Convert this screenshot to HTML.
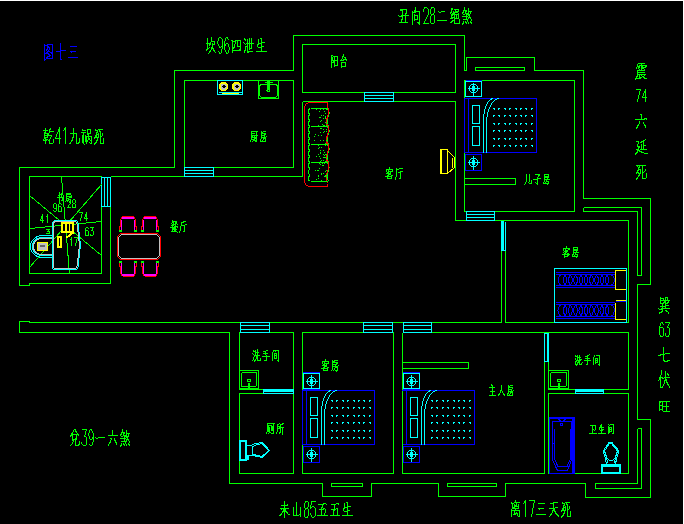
<!DOCTYPE html>
<html><head><meta charset="utf-8"><title>Floor plan</title>
<style>html,body{margin:0;padding:0;background:#000;font-family:"Liberation Sans",sans-serif;}svg{display:block}</style>
</head><body>
<svg width="684" height="524" viewBox="0 0 684 524" shape-rendering="crispEdges">
<desc>图十三 坎96四泄生 丑向28二绝煞 震74六延死 乾41九祸死 巽63七伏旺 兑39一六煞 未山85五五生 离17三天死 阳台 厨房 客厅 儿子房 客房 餐厅 书房 洗手间 主人房 厕所 卫生间</desc>
<rect width="684" height="524" fill="#000"/>
<path d="M19.5 285.5 L19.5 167.5 L174.5 167.5 L174.5 70.5 L293.5 70.5 L293.5 35.5 L464.5 35.5 L464.5 70.5 L466.5 70.5 L466.5 57.5 L534.5 57.5 L534.5 70.5 L583.5 70.5 L583.5 198.5 L650.5 198.5 L650.5 284.5 L637.5 284.5 L637.5 419.5 L650.5 419.5 L650.5 497.5 L585.5 497.5 L585.5 483.5 L505.5 483.5 L505.5 496.5 L438.5 496.5 L438.5 483.5 L371.5 483.5 L371.5 496.5 L322.5 496.5 L322.5 483.5 L229.5 483.5 L229.5 332.5 L19.5 332.5 L19.5 321.5 L29.5 321.5 L29.5 322.5 L501.5 322.5" stroke="#00ff00" stroke-width="1" fill="none"/>
<path d="M19.5 285.5 L29.5 285.5 L29.5 283.5 L110.5 283.5 L110.5 206.5" stroke="#00ff00" stroke-width="1" fill="none"/>
<path d="M101.5 206.5 L101.5 273.5 L29.5 273.5 L29.5 176.5 L101.5 176.5" stroke="#00ff00" stroke-width="1" fill="none"/>
<path d="M110.5 176.5 L302.5 176.5" stroke="#00ff00" stroke-width="1" fill="none"/>
<path d="M302.5 101.5 L302.5 176.5" stroke="#00ff00" stroke-width="1" fill="none"/>
<path d="M184.5 167.5 L184.5 80.5 L293.5 80.5 L293.5 167.5 L213.5 167.5" stroke="#00ff00" stroke-width="1" fill="none"/>
<path d="M302.5 44.5 L455.5 44.5 L455.5 92.5 L302.5 92.5 Z" stroke="#00ff00" stroke-width="1" fill="none"/>
<path d="M302.5 101.5 L364.5 101.5" stroke="#00ff00" stroke-width="1" fill="none"/>
<path d="M393.5 101.5 L455.5 101.5 L455.5 220.5 L466.5 220.5" stroke="#00ff00" stroke-width="1" fill="none"/>
<path d="M494.5 220.5 L628.5 220.5 L628.5 322.5 L505.5 322.5 L505.5 250.5" stroke="#00ff00" stroke-width="1" fill="none"/>
<path d="M501.5 250.5 L501.5 322.5" stroke="#00ff00" stroke-width="1" fill="none"/>
<path d="M464.5 211.5 L464.5 80.5 L574.5 80.5 L574.5 211.5 L494.5 211.5" stroke="#00ff00" stroke-width="1" fill="none"/>
<path d="M464.5 211.5 L466.5 211.5" stroke="#00ff00" stroke-width="1" fill="none"/>
<path d="M475.5 67.5 L524.5 67.5 L524.5 70.5 L475.5 70.5 Z" stroke="#00ff00" stroke-width="1" fill="none"/>
<path d="M464.5 178.5 L515.5 178.5 L515.5 184.5 L464.5 184.5" stroke="#00ff00" stroke-width="1" fill="none"/>
<path d="M583.5 207.5 L641.5 207.5 L641.5 275.5 L637.5 275.5 L637.5 211.5 L583.5 211.5 L583.5 207.5" stroke="#00ff00" stroke-width="1" fill="none"/>
<path d="M263.5 389.5 L239.5 389.5 L239.5 332.5 L293.5 332.5 L293.5 389.5" stroke="#00ff00" stroke-width="1" fill="none"/>
<path d="M239.5 393.5 L293.5 393.5 L293.5 473.5 L239.5 473.5 Z" stroke="#00ff00" stroke-width="1" fill="none"/>
<path d="M302.5 332.5 L393.5 332.5 L393.5 473.5 L302.5 473.5 Z" stroke="#00ff00" stroke-width="1" fill="none"/>
<path d="M402.5 332.5 L628.5 332.5 L628.5 389.5 L603.5 389.5" stroke="#00ff00" stroke-width="1" fill="none"/>
<path d="M575.5 389.5 L548.5 389.5 L548.5 361.5" stroke="#00ff00" stroke-width="1" fill="none"/>
<path d="M544.5 361.5 L544.5 473.5 L402.5 473.5 L402.5 332.5" stroke="#00ff00" stroke-width="1" fill="none"/>
<path d="M548.5 393.5 L628.5 393.5 L628.5 473.5 L548.5 473.5 Z" stroke="#00ff00" stroke-width="1" fill="none"/>
<path d="M331.5 483.5 L362.5 483.5 L362.5 486.5 L331.5 486.5 Z" stroke="#00ff00" stroke-width="1" fill="none"/>
<path d="M447.5 483.5 L496.5 483.5 L496.5 486.5 L447.5 486.5 Z" stroke="#00ff00" stroke-width="1" fill="none"/>
<path d="M637.5 428.5 L641.5 428.5 L641.5 488.5 L595.5 488.5 L595.5 483.5 L637.5 483.5 L637.5 428.5" stroke="#00ff00" stroke-width="1" fill="none"/>
<path d="M402.5 362.5 L468.5 362.5 L468.5 368.5 L402.5 368.5 Z" stroke="#00ff00" stroke-width="1" fill="none"/>
<path d="M364.5 92.5 L393.5 92.5 L393.5 101.5 L364.5 101.5 Z" stroke="#00ffff" stroke-width="1" fill="none"/>
<path d="M364.5 95.5 L393.5 95.5" stroke="#00ffff" stroke-width="1" fill="none"/>
<path d="M364.5 98.5 L393.5 98.5" stroke="#00ffff" stroke-width="1" fill="none"/>
<path d="M184.5 167.5 L213.5 167.5 L213.5 176.5 L184.5 176.5 Z" stroke="#00ffff" stroke-width="1" fill="none"/>
<path d="M184.5 170.5 L213.5 170.5" stroke="#00ffff" stroke-width="1" fill="none"/>
<path d="M184.5 173.5 L213.5 173.5" stroke="#00ffff" stroke-width="1" fill="none"/>
<path d="M101.5 177.5 L110.5 177.5 L110.5 206.5 L101.5 206.5 Z" stroke="#00ffff" stroke-width="1" fill="none"/>
<path d="M104.5 177.5 L104.5 206.5" stroke="#00ffff" stroke-width="1" fill="none"/>
<path d="M107.5 177.5 L107.5 206.5" stroke="#00ffff" stroke-width="1" fill="none"/>
<path d="M466.5 211.5 L494.5 211.5 L494.5 220.5 L466.5 220.5 Z" stroke="#00ffff" stroke-width="1" fill="none"/>
<path d="M466.5 214.5 L494.5 214.5" stroke="#00ffff" stroke-width="1" fill="none"/>
<path d="M466.5 217.5 L494.5 217.5" stroke="#00ffff" stroke-width="1" fill="none"/>
<path d="M240.5 322.5 L269.5 322.5 L269.5 332.5 L240.5 332.5 Z" stroke="#00ffff" stroke-width="1" fill="none"/>
<path d="M240.5 325.5 L269.5 325.5" stroke="#00ffff" stroke-width="1" fill="none"/>
<path d="M240.5 329.5 L269.5 329.5" stroke="#00ffff" stroke-width="1" fill="none"/>
<path d="M363.5 322.5 L392.5 322.5 L392.5 332.5 L363.5 332.5 Z" stroke="#00ffff" stroke-width="1" fill="none"/>
<path d="M363.5 325.5 L392.5 325.5" stroke="#00ffff" stroke-width="1" fill="none"/>
<path d="M363.5 329.5 L392.5 329.5" stroke="#00ffff" stroke-width="1" fill="none"/>
<path d="M403.5 322.5 L431.5 322.5 L431.5 332.5 L403.5 332.5 Z" stroke="#00ffff" stroke-width="1" fill="none"/>
<path d="M403.5 325.5 L431.5 325.5" stroke="#00ffff" stroke-width="1" fill="none"/>
<path d="M403.5 329.5 L431.5 329.5" stroke="#00ffff" stroke-width="1" fill="none"/>
<rect x="501" y="221" width="3" height="30" fill="#00ffff"/>
<path d="M505.5 221.5 L505.5 250.5" stroke="#00ffff" stroke-width="1" fill="none"/>
<path d="M501.5 250.5 L505.5 250.5" stroke="#00ffff" stroke-width="1" fill="none"/>
<path d="M544.5 333.5 L548.5 333.5 L548.5 361.5 L544.5 361.5 Z" stroke="#00ffff" stroke-width="1" fill="none"/>
<path d="M547.5 333.5 L547.5 361.5" stroke="#00ffff" stroke-width="1" fill="none"/>
<rect x="263" y="389" width="31" height="3" fill="#00ffff"/>
<path d="M263.5 393.5 L293.5 393.5" stroke="#00ffff" stroke-width="1" fill="none"/>
<path d="M263.5 389.5 L263.5 393.5" stroke="#00ffff" stroke-width="1" fill="none"/>
<path d="M293.5 389.5 L293.5 393.5" stroke="#00ffff" stroke-width="1" fill="none"/>
<rect x="575" y="389" width="29" height="3" fill="#00ffff"/>
<path d="M575.5 393.5 L603.5 393.5" stroke="#00ffff" stroke-width="1" fill="none"/>
<path d="M575.5 389.5 L575.5 393.5" stroke="#00ffff" stroke-width="1" fill="none"/>
<path d="M603.5 389.5 L603.5 393.5" stroke="#00ffff" stroke-width="1" fill="none"/>
<path d="M465.5 81.5 L481.5 81.5 L481.5 96.5 L465.5 96.5 Z" stroke="#00ffff" stroke-width="1" fill="none"/>
<path d="M471.5 84.5 L475.5 84.5 L477.5 86.5 L477.5 90.5 L475.5 92.5 L471.5 92.5 L469.5 90.5 L469.5 86.5 Z" stroke="#00ffff" stroke-width="1" fill="none"/>
<path d="M467.5 88.5 L479.5 88.5" stroke="#00ffff" stroke-width="1" fill="none"/>
<path d="M473.5 82.5 L473.5 95.5" stroke="#00ffff" stroke-width="1" fill="none"/>
<rect x="472" y="86" width="3" height="5" fill="#00ffff"/>
<path d="M465.5 80.5 L481.5 80.5" stroke="#0000ff" stroke-width="1" fill="none"/>
<path d="M465.5 154.5 L481.5 154.5 L481.5 170.5 L465.5 170.5 Z" stroke="#0000ff" stroke-width="1" fill="none"/>
<path d="M471.5 158.5 L475.5 158.5 L477.5 160.5 L477.5 164.5 L475.5 166.5 L471.5 166.5 L469.5 164.5 L469.5 160.5 Z" stroke="#00ffff" stroke-width="1" fill="none"/>
<path d="M467.5 162.5 L479.5 162.5" stroke="#00ffff" stroke-width="1" fill="none"/>
<path d="M473.5 155.5 L473.5 169.5" stroke="#00ffff" stroke-width="1" fill="none"/>
<rect x="472" y="160" width="3" height="5" fill="#00ffff"/>
<path d="M303.5 372.5 L319.5 372.5 L319.5 389.5 L303.5 389.5 Z" stroke="#0000ff" stroke-width="1" fill="none"/>
<path d="M303.5 373.5 L319.5 373.5 L319.5 388.5 L303.5 388.5 Z" stroke="#00ffff" stroke-width="1" fill="none"/>
<path d="M309.5 377.5 L313.5 377.5 L315.5 379.5 L315.5 383.5 L313.5 385.5 L309.5 385.5 L307.5 383.5 L307.5 379.5 Z" stroke="#00ffff" stroke-width="1" fill="none"/>
<path d="M305.5 381.5 L317.5 381.5" stroke="#00ffff" stroke-width="1" fill="none"/>
<path d="M311.5 374.5 L311.5 387.5" stroke="#00ffff" stroke-width="1" fill="none"/>
<rect x="310" y="379" width="3" height="5" fill="#00ffff"/>
<path d="M303.5 446.5 L319.5 446.5 L319.5 462.5 L303.5 462.5 Z" stroke="#0000ff" stroke-width="1" fill="none"/>
<path d="M309.5 450.5 L313.5 450.5 L315.5 452.5 L315.5 456.5 L313.5 458.5 L309.5 458.5 L307.5 456.5 L307.5 452.5 Z" stroke="#00ffff" stroke-width="1" fill="none"/>
<path d="M305.5 454.5 L317.5 454.5" stroke="#00ffff" stroke-width="1" fill="none"/>
<path d="M311.5 447.5 L311.5 461.5" stroke="#00ffff" stroke-width="1" fill="none"/>
<rect x="310" y="452" width="3" height="5" fill="#00ffff"/>
<path d="M403.5 372.5 L419.5 372.5 L419.5 389.5 L403.5 389.5 Z" stroke="#0000ff" stroke-width="1" fill="none"/>
<path d="M403.5 373.5 L419.5 373.5 L419.5 388.5 L403.5 388.5 Z" stroke="#00ffff" stroke-width="1" fill="none"/>
<path d="M409.5 377.5 L413.5 377.5 L415.5 379.5 L415.5 383.5 L413.5 385.5 L409.5 385.5 L407.5 383.5 L407.5 379.5 Z" stroke="#00ffff" stroke-width="1" fill="none"/>
<path d="M405.5 381.5 L417.5 381.5" stroke="#00ffff" stroke-width="1" fill="none"/>
<path d="M411.5 374.5 L411.5 387.5" stroke="#00ffff" stroke-width="1" fill="none"/>
<rect x="410" y="379" width="3" height="5" fill="#00ffff"/>
<path d="M403.5 446.5 L419.5 446.5 L419.5 462.5 L403.5 462.5 Z" stroke="#0000ff" stroke-width="1" fill="none"/>
<path d="M409.5 450.5 L413.5 450.5 L415.5 452.5 L415.5 456.5 L413.5 458.5 L409.5 458.5 L407.5 456.5 L407.5 452.5 Z" stroke="#00ffff" stroke-width="1" fill="none"/>
<path d="M405.5 454.5 L417.5 454.5" stroke="#00ffff" stroke-width="1" fill="none"/>
<path d="M411.5 447.5 L411.5 461.5" stroke="#00ffff" stroke-width="1" fill="none"/>
<rect x="410" y="452" width="3" height="5" fill="#00ffff"/>
<path d="M464.5 98.5 L536.5 98.5 L536.5 152.5 L464.5 152.5 Z" stroke="#0000ff" stroke-width="1" fill="none"/>
<path d="M468.5 98.5 L468.5 152.5" stroke="#0000ff" stroke-width="1" fill="none"/>
<path d="M472.5 105.5 L479.5 105.5 L479.5 123.5 L472.5 123.5 Z" stroke="#00ffff" stroke-width="1" fill="none"/>
<path d="M472.5 126.5 L479.5 126.5 L479.5 145.5 L472.5 145.5 Z" stroke="#00ffff" stroke-width="1" fill="none"/>
<path d="M483.50 152.50 L483.50 120.50 L483.59 117.63 L483.84 114.81 L484.26 112.08 L484.84 109.50 L485.57 107.11 L486.43 104.94 L487.41 103.05 L488.50 101.45 L489.67 100.17 L490.91 99.25 L492.19 98.69 L493.50 98.50" stroke="#00ffff" stroke-width="1" fill="none"/>
<path d="M486.50 152.50 L486.50 124.50 L486.61 121.11 L486.94 117.77 L487.49 114.55 L488.24 111.50 L489.19 108.67 L490.31 106.12 L491.59 103.87 L493.00 101.98 L494.53 100.48 L496.14 99.39 L497.80 98.72 L499.50 98.50" stroke="#00ffff" stroke-width="1" fill="none"/>
<path d="M493 108.5h2M494 109.5h1M498 108.5h2M498 109.5h1M504 108.5h2M505 109.5h1M509 108.5h2M509 109.5h1M515 108.5h2M516 109.5h1M520 108.5h2M520 109.5h1M525 108.5h2M526 109.5h1M531 108.5h2M531 109.5h1M493 115.5h2M493 116.5h1M498 115.5h2M499 116.5h1M504 115.5h2M504 116.5h1M509 115.5h2M510 116.5h1M515 115.5h2M515 116.5h1M520 115.5h2M521 116.5h1M525 115.5h2M525 116.5h1M531 115.5h2M532 116.5h1M493 123.5h2M494 124.5h1M498 123.5h2M498 124.5h1M504 123.5h2M505 124.5h1M509 123.5h2M509 124.5h1M515 123.5h2M516 124.5h1M520 123.5h2M520 124.5h1M525 123.5h2M526 124.5h1M531 123.5h2M531 124.5h1M493 130.5h2M493 131.5h1M498 130.5h2M499 131.5h1M504 130.5h2M504 131.5h1M509 130.5h2M510 131.5h1M515 130.5h2M515 131.5h1M520 130.5h2M521 131.5h1M525 130.5h2M525 131.5h1M531 130.5h2M532 131.5h1M493 138.5h2M494 139.5h1M498 138.5h2M498 139.5h1M504 138.5h2M505 139.5h1M509 138.5h2M509 139.5h1M515 138.5h2M516 139.5h1M520 138.5h2M520 139.5h1M525 138.5h2M526 139.5h1M531 138.5h2M531 139.5h1M493 145.5h2M493 146.5h1M498 145.5h2M499 146.5h1M504 145.5h2M504 146.5h1M509 145.5h2M510 146.5h1M515 145.5h2M515 146.5h1M520 145.5h2M521 146.5h1M525 145.5h2M525 146.5h1M531 145.5h2M532 146.5h1" stroke="#00ffff" stroke-width="1" fill="none"/>
<path d="M302.5 390.5 L374.5 390.5 L374.5 444.5 L302.5 444.5 Z" stroke="#0000ff" stroke-width="1" fill="none"/>
<path d="M306.5 390.5 L306.5 444.5" stroke="#0000ff" stroke-width="1" fill="none"/>
<path d="M310.5 397.5 L317.5 397.5 L317.5 415.5 L310.5 415.5 Z" stroke="#00ffff" stroke-width="1" fill="none"/>
<path d="M310.5 418.5 L317.5 418.5 L317.5 437.5 L310.5 437.5 Z" stroke="#00ffff" stroke-width="1" fill="none"/>
<path d="M321.50 444.50 L321.50 412.50 L321.59 409.63 L321.84 406.81 L322.26 404.08 L322.84 401.50 L323.57 399.11 L324.43 396.94 L325.41 395.05 L326.50 393.45 L327.67 392.17 L328.91 391.25 L330.19 390.69 L331.50 390.50" stroke="#00ffff" stroke-width="1" fill="none"/>
<path d="M324.50 444.50 L324.50 416.50 L324.61 413.11 L324.94 409.77 L325.49 406.55 L326.24 403.50 L327.19 400.67 L328.31 398.12 L329.59 395.87 L331.00 393.98 L332.53 392.48 L334.14 391.39 L335.80 390.72 L337.50 390.50" stroke="#00ffff" stroke-width="1" fill="none"/>
<path d="M331 400.5h2M332 401.5h1M336 400.5h2M336 401.5h1M342 400.5h2M343 401.5h1M347 400.5h2M347 401.5h1M353 400.5h2M354 401.5h1M358 400.5h2M358 401.5h1M363 400.5h2M364 401.5h1M369 400.5h2M369 401.5h1M331 407.5h2M331 408.5h1M336 407.5h2M337 408.5h1M342 407.5h2M342 408.5h1M347 407.5h2M348 408.5h1M353 407.5h2M353 408.5h1M358 407.5h2M359 408.5h1M363 407.5h2M363 408.5h1M369 407.5h2M370 408.5h1M331 415.5h2M332 416.5h1M336 415.5h2M336 416.5h1M342 415.5h2M343 416.5h1M347 415.5h2M347 416.5h1M353 415.5h2M354 416.5h1M358 415.5h2M358 416.5h1M363 415.5h2M364 416.5h1M369 415.5h2M369 416.5h1M331 422.5h2M331 423.5h1M336 422.5h2M337 423.5h1M342 422.5h2M342 423.5h1M347 422.5h2M348 423.5h1M353 422.5h2M353 423.5h1M358 422.5h2M359 423.5h1M363 422.5h2M363 423.5h1M369 422.5h2M370 423.5h1M331 430.5h2M332 431.5h1M336 430.5h2M336 431.5h1M342 430.5h2M343 431.5h1M347 430.5h2M347 431.5h1M353 430.5h2M354 431.5h1M358 430.5h2M358 431.5h1M363 430.5h2M364 431.5h1M369 430.5h2M369 431.5h1M331 437.5h2M331 438.5h1M336 437.5h2M337 438.5h1M342 437.5h2M342 438.5h1M347 437.5h2M348 438.5h1M353 437.5h2M353 438.5h1M358 437.5h2M359 438.5h1M363 437.5h2M363 438.5h1M369 437.5h2M370 438.5h1" stroke="#00ffff" stroke-width="1" fill="none"/>
<path d="M402.5 390.5 L474.5 390.5 L474.5 444.5 L402.5 444.5 Z" stroke="#0000ff" stroke-width="1" fill="none"/>
<path d="M406.5 390.5 L406.5 444.5" stroke="#0000ff" stroke-width="1" fill="none"/>
<path d="M410.5 397.5 L417.5 397.5 L417.5 415.5 L410.5 415.5 Z" stroke="#00ffff" stroke-width="1" fill="none"/>
<path d="M410.5 418.5 L417.5 418.5 L417.5 437.5 L410.5 437.5 Z" stroke="#00ffff" stroke-width="1" fill="none"/>
<path d="M421.50 444.50 L421.50 412.50 L421.59 409.63 L421.84 406.81 L422.26 404.08 L422.84 401.50 L423.57 399.11 L424.43 396.94 L425.41 395.05 L426.50 393.45 L427.67 392.17 L428.91 391.25 L430.19 390.69 L431.50 390.50" stroke="#00ffff" stroke-width="1" fill="none"/>
<path d="M424.50 444.50 L424.50 416.50 L424.61 413.11 L424.94 409.77 L425.49 406.55 L426.24 403.50 L427.19 400.67 L428.31 398.12 L429.59 395.87 L431.00 393.98 L432.53 392.48 L434.14 391.39 L435.80 390.72 L437.50 390.50" stroke="#00ffff" stroke-width="1" fill="none"/>
<path d="M431 400.5h2M432 401.5h1M436 400.5h2M436 401.5h1M442 400.5h2M443 401.5h1M447 400.5h2M447 401.5h1M453 400.5h2M454 401.5h1M458 400.5h2M458 401.5h1M463 400.5h2M464 401.5h1M469 400.5h2M469 401.5h1M431 407.5h2M431 408.5h1M436 407.5h2M437 408.5h1M442 407.5h2M442 408.5h1M447 407.5h2M448 408.5h1M453 407.5h2M453 408.5h1M458 407.5h2M459 408.5h1M463 407.5h2M463 408.5h1M469 407.5h2M470 408.5h1M431 415.5h2M432 416.5h1M436 415.5h2M436 416.5h1M442 415.5h2M443 416.5h1M447 415.5h2M447 416.5h1M453 415.5h2M454 416.5h1M458 415.5h2M458 416.5h1M463 415.5h2M464 416.5h1M469 415.5h2M469 416.5h1M431 422.5h2M431 423.5h1M436 422.5h2M437 423.5h1M442 422.5h2M442 423.5h1M447 422.5h2M448 423.5h1M453 422.5h2M453 423.5h1M458 422.5h2M459 423.5h1M463 422.5h2M463 423.5h1M469 422.5h2M470 423.5h1M431 430.5h2M432 431.5h1M436 430.5h2M436 431.5h1M442 430.5h2M443 431.5h1M447 430.5h2M447 431.5h1M453 430.5h2M454 431.5h1M458 430.5h2M458 431.5h1M463 430.5h2M464 431.5h1M469 430.5h2M469 431.5h1M431 437.5h2M431 438.5h1M436 437.5h2M437 438.5h1M442 437.5h2M442 438.5h1M447 437.5h2M448 438.5h1M453 437.5h2M453 438.5h1M458 437.5h2M459 438.5h1M463 437.5h2M463 438.5h1M469 437.5h2M470 438.5h1" stroke="#00ffff" stroke-width="1" fill="none"/>
<path d="M402.5 390.5 L402.5 444.5" stroke="#00ff00" stroke-width="1" fill="none"/>
<path d="M217.5 80.5 L242.5 80.5 L242.5 94.5 L217.5 94.5 Z" stroke="#00ffff" stroke-width="1" fill="none"/>
<path d="M218.5 92.5 L241.5 92.5" stroke="#00ffff" stroke-width="1" fill="none"/>
<path d="M221.5 93.5 L238.5 93.5" stroke="#ffff00" stroke-width="1" fill="none"/>
<path d="M221.5 82 h4 l2.5 2.5 v4 l-2.5 2.5 h-4 l-2.5 -2.5 v-4 z" fill="#ffff00"/>
<path d="M222.0 83.5 h3 l1.5 1.5 v3 l-1.5 1.5 h-3 l-1.5 -1.5 v-3 z" fill="#c0c0c0"/>
<path d="M223.5 84.5 l2 2 l-2 2 l-2 -2 z" fill="#000"/>
<path d="M234.5 82 h4 l2.5 2.5 v4 l-2.5 2.5 h-4 l-2.5 -2.5 v-4 z" fill="#ffff00"/>
<path d="M235.0 83.5 h3 l1.5 1.5 v3 l-1.5 1.5 h-3 l-1.5 -1.5 v-3 z" fill="#c0c0c0"/>
<path d="M236.5 84.5 l2 2 l-2 2 l-2 -2 z" fill="#000"/>
<path d="M258.5 80.5 L278.5 80.5 L278.5 98.5 L258.5 98.5 Z" stroke="#00ff00" stroke-width="1" fill="none"/>
<path d="M259.5 86 L261 84.5 H276 L277.5 86 V95.5 L276 97 H261 L259.5 95.5 Z" stroke="#00ff00" stroke-width="1" fill="none"/>
<rect x="267" y="81" width="3" height="9" fill="#00ff00"/>
<path d="M264.5 82.5 L272.5 82.5" stroke="#00ff00" stroke-width="1" fill="none"/>
<circle cx="268.5" cy="90.5" r="1.5" stroke="#00ff00" stroke-width="1" fill="none"/>
<path d="M239.5 370.5 L258.5 370.5 L258.5 389.5 L239.5 389.5 Z" stroke="#00ff00" stroke-width="1" fill="none"/>
<path d="M241.5 374 Q241.5 372.5 243 372.5 H255 Q256.5 372.5 256.5 374 V385 Q256.5 386.5 255 386.5 H243 Q241.5 386.5 241.5 385 Z" stroke="#00ff00" stroke-width="1" fill="none"/>
<rect x="248" y="383" width="2" height="7" fill="#00ff00"/>
<path d="M246.5 388.5 L251.5 388.5" stroke="#00ff00" stroke-width="1" fill="none"/>
<path d="M247.5 379.5 L250.5 379.5 L250.5 381.5 L247.5 381.5 Z" stroke="#00ff00" stroke-width="1" fill="none"/>
<path d="M548.5 370.5 L568.5 370.5 L568.5 389.5 L548.5 389.5 Z" stroke="#00ff00" stroke-width="1" fill="none"/>
<path d="M550.5 374 Q550.5 372.5 552 372.5 H565 Q566.5 372.5 566.5 374 V385 Q566.5 386.5 565 386.5 H552 Q550.5 386.5 550.5 385 Z" stroke="#00ff00" stroke-width="1" fill="none"/>
<rect x="558" y="383" width="2" height="7" fill="#00ff00"/>
<path d="M556.5 388.5 L561.5 388.5" stroke="#00ff00" stroke-width="1" fill="none"/>
<path d="M557.5 379.5 L560.5 379.5 L560.5 381.5 L557.5 381.5 Z" stroke="#00ff00" stroke-width="1" fill="none"/>
<path d="M239.5 388.5 L258.5 388.5" stroke="#00ff00" stroke-width="1" fill="none"/>
<path d="M548.5 388.5 L568.5 388.5" stroke="#00ff00" stroke-width="1" fill="none"/>
<path d="M327.5 102.5 H311 Q304.5 102.5 304.5 109 V180 Q304.5 186.5 311 186.5 H327.5" stroke="#ff0000" stroke-width="1" fill="none"/>
<path d="M310.5 108.5 L327.5 108.5" stroke="#00ff00" stroke-width="1" fill="none"/>
<path d="M309.5 108.5 q-2 3.0 0 6.0 q-2 3.0 0 6.0 q-2 3.0 0 6.0" stroke="#00ff00" stroke-width="1" fill="none"/>
<path d="M327.5 108.5 Q330.5 113.4 328 117.0 Q326 122.4 328.5 126.5" stroke="#00ff00" stroke-width="1" fill="none"/>
<path d="M327.5 106 Q329.5 112.5 327.5 117.0 Q325.5 121.5 327.5 128" stroke="#ff0000" stroke-width="1" fill="none"/>
<path d="M310.5 126.5 L327.5 126.5" stroke="#00ff00" stroke-width="1" fill="none"/>
<path d="M309.5 126.5 q-2 3.0 0 6.0 q-2 3.0 0 6.0 q-2 3.0 0 6.0" stroke="#00ff00" stroke-width="1" fill="none"/>
<path d="M327.5 126.5 Q330.5 131.4 328 135.0 Q326 140.4 328.5 144.5" stroke="#00ff00" stroke-width="1" fill="none"/>
<path d="M327.5 124 Q329.5 130.5 327.5 135.0 Q325.5 139.5 327.5 146" stroke="#ff0000" stroke-width="1" fill="none"/>
<path d="M310.5 144.5 L327.5 144.5" stroke="#00ff00" stroke-width="1" fill="none"/>
<path d="M309.5 144.5 q-2 3.0 0 6.0 q-2 3.0 0 6.0 q-2 3.0 0 6.0" stroke="#00ff00" stroke-width="1" fill="none"/>
<path d="M327.5 144.5 Q330.5 149.4 328 153.0 Q326 158.4 328.5 162.5" stroke="#00ff00" stroke-width="1" fill="none"/>
<path d="M327.5 142 Q329.5 148.5 327.5 153.0 Q325.5 157.5 327.5 164" stroke="#ff0000" stroke-width="1" fill="none"/>
<path d="M310.5 162.5 L327.5 162.5" stroke="#00ff00" stroke-width="1" fill="none"/>
<path d="M309.5 162.5 q-2 3.1666666666666665 0 6.333333333333333 q-2 3.1666666666666665 0 6.333333333333333 q-2 3.1666666666666665 0 6.333333333333333" stroke="#00ff00" stroke-width="1" fill="none"/>
<path d="M327.5 162.5 Q330.5 167.7 328 171.5 Q326 177.2 328.5 181.5" stroke="#00ff00" stroke-width="1" fill="none"/>
<path d="M327.5 160 Q329.5 166.75 327.5 171.5 Q325.5 176.25 327.5 183" stroke="#ff0000" stroke-width="1" fill="none"/>
<path d="M310.5 181.5 L327.5 181.5" stroke="#00ff00" stroke-width="1" fill="none"/>
<path d="M327.5 102.5 L327.5 106.5" stroke="#ff0000" stroke-width="1" fill="none"/>
<path d="M327.5 183.5 L327.5 186.5" stroke="#ff0000" stroke-width="1" fill="none"/>
<path d="M325 176.5h1M326 140.5h1M314 140.5h1M326 158.5h1M325 118.5h1M322 165.5h1M321 135.5h1M319 147.5h1M326 109.5h1M324 152.5h1M324 131.5h1M315 134.5h1M318 176.5h1M321 120.5h1M318 148.5h1M317 170.5h1M321 160.5h1M320 162.5h1M318 135.5h1M324 125.5h1M325 161.5h1M319 156.5h1M326 162.5h1M318 170.5h1M320 152.5h1M321 173.5h1M325 154.5h1M323 154.5h1M326 161.5h1M326 131.5h1M318 175.5h1M326 170.5h1M325 175.5h1M325 143.5h1M320 132.5h1M323 132.5h1M319 168.5h1M323 118.5h1M316 156.5h1M326 123.5h1M321 147.5h1M321 174.5h1M326 125.5h1M326 177.5h1M323 109.5h1M318 178.5h1M323 157.5h1M324 157.5h1M326 129.5h1M319 111.5h1M315 170.5h1M323 165.5h1M325 113.5h1M322 124.5h1M324 152.5h1M324 176.5h1M326 125.5h1M326 158.5h1M320 117.5h1M321 128.5h1M321 115.5h1M325 117.5h1M320 128.5h1M314 136.5h1M323 173.5h1M320 158.5h1M324 111.5h1M320 150.5h1M319 117.5h1M320 153.5h1M322 163.5h1M320 121.5h1M323 129.5h1M326 158.5h1M325 145.5h1M320 128.5h1M323 150.5h1M324 155.5h1M320 161.5h1M326 175.5h1M325 171.5h1M323 115.5h1M325 116.5h1M326 161.5h1M323 160.5h1M325 122.5h1M325 157.5h1M316 179.5h1M317 170.5h1M318 125.5h1M323 140.5h1M320 140.5h1M323 125.5h1M324 163.5h1M325 157.5h1M318 145.5h1M321 180.5h1M326 154.5h1M318 154.5h1M319 163.5h1M320 164.5h1M320 109.5h1M326 162.5h1M316 109.5h1" stroke="#00ff00" stroke-width="1" fill="none"/>
<path d="M440.5 149.5 L447.5 149.5 L447.5 173.5 L440.5 173.5 Z" stroke="#ffff00" stroke-width="1" fill="none"/>
<path d="M441.5 149.5 L441.5 173.5" stroke="#ffff00" stroke-width="1" fill="none"/>
<path d="M447.5 150.5 L454.5 157.5 L454.5 167.5 L447.5 173.5" stroke="#ffff00" stroke-width="1" fill="none"/>
<path d="M452.5 157.5 L452.5 167.5" stroke="#ffff00" stroke-width="1" fill="none"/>
<path d="M120.5 233.5 L157.5 233.5 L160.5 236.5 L160.5 256.5 L157.5 259.5 L120.5 259.5 L117.5 256.5 L117.5 236.5 Z" stroke="#ff0000" stroke-width="1" fill="none"/>
<path d="M121.5 234.5 L156.5 234.5 L159.5 237.5 L159.5 255.5 L156.5 258.5 L121.5 258.5 L118.5 255.5 L118.5 237.5 Z" stroke="#c0c0c0" stroke-width="1" fill="none"/>
<path d="M122.5 216.5 L133.5 216.5" stroke="#ff0000" stroke-width="1" fill="none"/>
<rect x="122" y="217" width="12" height="2" fill="#ff00ff"/>
<path d="M122.5 216.5 L120.5 219.5 L120.5 226.5 L119.5 226.5 L119.5 231.5" stroke="#ff0000" stroke-width="1" fill="none"/>
<path d="M133.5 216.5 L135.5 219.5 L135.5 226.5 L136.5 226.5 L136.5 231.5" stroke="#ff0000" stroke-width="1" fill="none"/>
<path d="M121.5 219.5 L121.5 230.5" stroke="#ff00ff" stroke-width="1" fill="none"/>
<path d="M134.5 219.5 L134.5 230.5" stroke="#ff00ff" stroke-width="1" fill="none"/>
<rect x="119" y="230" width="3" height="2" fill="#00ff00"/>
<rect x="134" y="230" width="3" height="2" fill="#00ff00"/>
<path d="M144.5 216.5 L155.5 216.5" stroke="#ff0000" stroke-width="1" fill="none"/>
<rect x="144" y="217" width="12" height="2" fill="#ff00ff"/>
<path d="M144.5 216.5 L142.5 219.5 L142.5 226.5 L141.5 226.5 L141.5 231.5" stroke="#ff0000" stroke-width="1" fill="none"/>
<path d="M155.5 216.5 L157.5 219.5 L157.5 226.5 L158.5 226.5 L158.5 231.5" stroke="#ff0000" stroke-width="1" fill="none"/>
<path d="M143.5 219.5 L143.5 230.5" stroke="#ff00ff" stroke-width="1" fill="none"/>
<path d="M156.5 219.5 L156.5 230.5" stroke="#ff00ff" stroke-width="1" fill="none"/>
<rect x="141" y="230" width="3" height="2" fill="#00ff00"/>
<rect x="156" y="230" width="3" height="2" fill="#00ff00"/>
<path d="M122.5 276.5 L133.5 276.5" stroke="#ff0000" stroke-width="1" fill="none"/>
<rect x="122" y="274" width="12" height="2" fill="#ff00ff"/>
<path d="M122.5 276.5 L120.5 273.5 L120.5 266.5 L119.5 266.5 L119.5 261.5" stroke="#ff0000" stroke-width="1" fill="none"/>
<path d="M133.5 276.5 L135.5 273.5 L135.5 266.5 L136.5 266.5 L136.5 261.5" stroke="#ff0000" stroke-width="1" fill="none"/>
<path d="M121.5 262.5 L121.5 273.5" stroke="#ff00ff" stroke-width="1" fill="none"/>
<path d="M134.5 262.5 L134.5 273.5" stroke="#ff00ff" stroke-width="1" fill="none"/>
<rect x="119" y="261" width="3" height="2" fill="#00ff00"/>
<rect x="134" y="261" width="3" height="2" fill="#00ff00"/>
<path d="M144.5 276.5 L155.5 276.5" stroke="#ff0000" stroke-width="1" fill="none"/>
<rect x="144" y="274" width="12" height="2" fill="#ff00ff"/>
<path d="M144.5 276.5 L142.5 273.5 L142.5 266.5 L141.5 266.5 L141.5 261.5" stroke="#ff0000" stroke-width="1" fill="none"/>
<path d="M155.5 276.5 L157.5 273.5 L157.5 266.5 L158.5 266.5 L158.5 261.5" stroke="#ff0000" stroke-width="1" fill="none"/>
<path d="M143.5 262.5 L143.5 273.5" stroke="#ff00ff" stroke-width="1" fill="none"/>
<path d="M156.5 262.5 L156.5 273.5" stroke="#ff00ff" stroke-width="1" fill="none"/>
<rect x="141" y="261" width="3" height="2" fill="#00ff00"/>
<rect x="156" y="261" width="3" height="2" fill="#00ff00"/>
<path d="M61.5 176.5 L69.5 273.5" stroke="#00ff00" stroke-width="1" fill="none"/>
<path d="M29.5 195.5 L101.5 255.5" stroke="#00ff00" stroke-width="1" fill="none"/>
<path d="M101.5 184.5 L29.5 267.5" stroke="#00ff00" stroke-width="1" fill="none"/>
<path d="M29.5 228.5 L101.5 221.5" stroke="#00ff00" stroke-width="1" fill="none"/>
<path d="M52.5 269 V224 Q52.5 220.5 56 220.5 H75 Q77.5 220.5 78 223 L80.5 245 L78 267 Q77.5 269.5 75 269.5 H55 Q52.5 269.5 52.5 267" stroke="#00ffff" stroke-width="1" fill="none"/>
<path d="M53.5 268 V224.5 Q53.5 221.5 56 221.5 H74.5 Q76.5 221.5 77 223.5 L79.5 245 L77 266.5 Q76.5 268.5 74.5 268.5 H55.5 Q53.5 268.5 53.5 266.5" stroke="#c0c0c0" stroke-width="1" fill="none"/>
<path d="M51.50 257.50 L42.50 257.50 L40.62 257.36 L38.79 256.96 L37.05 256.30 L35.45 255.40 L34.01 254.28 L32.79 252.97 L31.81 251.49 L31.09 249.90 L30.65 248.22 L30.50 246.50 L30.65 244.78 L31.09 243.10 L31.81 241.51 L32.79 240.03 L34.01 238.72 L35.45 237.60 L37.05 236.70 L38.79 236.04 L40.62 235.64 L42.50 235.50 L51.50 235.50" stroke="#00ffff" stroke-width="1" fill="none"/>
<path d="M51.50 255.70 L42.50 255.70 L40.90 255.59 L39.35 255.25 L37.87 254.70 L36.50 253.94 L35.29 253.01 L34.25 251.91 L33.41 250.68 L32.80 249.34 L32.43 247.94 L32.30 246.50 L32.43 245.06 L32.80 243.66 L33.41 242.32 L34.25 241.09 L35.29 239.99 L36.50 239.06 L37.87 238.30 L39.35 237.75 L40.90 237.41 L42.50 237.30 L51.50 237.30" stroke="#00ffff" stroke-width="1" fill="none"/>
<path d="M51.50 254.70 L42.50 254.70 L41.06 254.60 L39.66 254.30 L38.32 253.81 L37.09 253.13 L35.99 252.30 L35.06 251.32 L34.30 250.22 L33.75 249.03 L33.41 247.78 L33.30 246.50 L33.41 245.22 L33.75 243.97 L34.30 242.78 L35.06 241.68 L35.99 240.70 L37.09 239.87 L38.32 239.19 L39.66 238.70 L41.06 238.40 L42.50 238.30 L51.50 238.30" stroke="#c0c0c0" stroke-width="1" fill="none"/>
<rect x="37" y="242" width="11" height="9" fill="#ffff00"/>
<rect x="38" y="243" width="9" height="7" fill="#c0c0c0"/>
<rect x="40" y="245" width="5" height="2" fill="#666"/>
<rect x="61" y="222" width="13" height="11" fill="#ffff00"/>
<rect x="63" y="224" width="2" height="7" fill="#000"/>
<rect x="67" y="224" width="5" height="7" fill="#000"/>
<path d="M69.5 223.5 L69.5 231.5" stroke="#ffff00" stroke-width="1" fill="none"/>
<rect x="57" y="236" width="5" height="12" fill="#ffff00"/>
<rect x="59" y="238" width="1" height="8" fill="#000"/>
<path d="M66.5 237.5 L73.5 232.5" stroke="#ffff00" stroke-width="2" fill="none"/>
<path d="M554.5 268.5 L626.5 268.5 L626.5 322.5 L554.5 322.5 Z" stroke="#00ffff" stroke-width="1" fill="none"/>
<path d="M555.5 272.5 L614.5 272.5" stroke="#0000ff" stroke-width="1" fill="none"/>
<path d="M555.5 274.5 L614.5 274.5" stroke="#0000ff" stroke-width="1" fill="none"/>
<path d="M555.5 285.5 L614.5 285.5" stroke="#0000ff" stroke-width="1" fill="none"/>
<path d="M555.5 287.5 L614.5 287.5" stroke="#0000ff" stroke-width="1" fill="none"/>
<ellipse cx="562.5" cy="280.0" rx="4.5" ry="5.5" stroke="#0000ff" fill="none" stroke-width="1"/>
<ellipse cx="567.8" cy="280.0" rx="4.5" ry="5.5" stroke="#0000ff" fill="none" stroke-width="1"/>
<ellipse cx="573.0" cy="280.0" rx="4.5" ry="5.5" stroke="#0000ff" fill="none" stroke-width="1"/>
<ellipse cx="578.2" cy="280.0" rx="4.5" ry="5.5" stroke="#0000ff" fill="none" stroke-width="1"/>
<ellipse cx="583.5" cy="280.0" rx="4.5" ry="5.5" stroke="#0000ff" fill="none" stroke-width="1"/>
<ellipse cx="588.8" cy="280.0" rx="4.5" ry="5.5" stroke="#0000ff" fill="none" stroke-width="1"/>
<ellipse cx="594.0" cy="280.0" rx="4.5" ry="5.5" stroke="#0000ff" fill="none" stroke-width="1"/>
<ellipse cx="599.2" cy="280.0" rx="4.5" ry="5.5" stroke="#0000ff" fill="none" stroke-width="1"/>
<ellipse cx="604.5" cy="280.0" rx="4.5" ry="5.5" stroke="#0000ff" fill="none" stroke-width="1"/>
<ellipse cx="609.8" cy="280.0" rx="4.5" ry="5.5" stroke="#0000ff" fill="none" stroke-width="1"/>
<path d="M555.5 302.5 L614.5 302.5" stroke="#0000ff" stroke-width="1" fill="none"/>
<path d="M555.5 304.5 L614.5 304.5" stroke="#0000ff" stroke-width="1" fill="none"/>
<path d="M555.5 316.5 L614.5 316.5" stroke="#0000ff" stroke-width="1" fill="none"/>
<path d="M555.5 318.5 L614.5 318.5" stroke="#0000ff" stroke-width="1" fill="none"/>
<ellipse cx="562.5" cy="310.5" rx="4.5" ry="6.0" stroke="#0000ff" fill="none" stroke-width="1"/>
<ellipse cx="567.8" cy="310.5" rx="4.5" ry="6.0" stroke="#0000ff" fill="none" stroke-width="1"/>
<ellipse cx="573.0" cy="310.5" rx="4.5" ry="6.0" stroke="#0000ff" fill="none" stroke-width="1"/>
<ellipse cx="578.2" cy="310.5" rx="4.5" ry="6.0" stroke="#0000ff" fill="none" stroke-width="1"/>
<ellipse cx="583.5" cy="310.5" rx="4.5" ry="6.0" stroke="#0000ff" fill="none" stroke-width="1"/>
<ellipse cx="588.8" cy="310.5" rx="4.5" ry="6.0" stroke="#0000ff" fill="none" stroke-width="1"/>
<ellipse cx="594.0" cy="310.5" rx="4.5" ry="6.0" stroke="#0000ff" fill="none" stroke-width="1"/>
<ellipse cx="599.2" cy="310.5" rx="4.5" ry="6.0" stroke="#0000ff" fill="none" stroke-width="1"/>
<ellipse cx="604.5" cy="310.5" rx="4.5" ry="6.0" stroke="#0000ff" fill="none" stroke-width="1"/>
<ellipse cx="609.8" cy="310.5" rx="4.5" ry="6.0" stroke="#0000ff" fill="none" stroke-width="1"/>
<path d="M625.5 270.5 L615.5 270.5 L615.5 289.5 L625.5 289.5" stroke="#ffff00" stroke-width="1" fill="none"/>
<path d="M625.5 300.5 L615.5 300.5" stroke="#ffff00" stroke-width="1" fill="none"/>
<path d="M615.5 302.5 L615.5 319.5 L625.5 319.5" stroke="#ffff00" stroke-width="1" fill="none"/>
<path d="M615.5 301.5 L625.5 301.5" stroke="#0000ff" stroke-width="1" fill="none"/>
<path d="M549.5 417.5 L574.5 417.5 L574.5 473.5 L549.5 473.5 Z" stroke="#0000ff" stroke-width="1" fill="none"/>
<path d="M549.5 418.5 L574.5 418.5" stroke="#0000ff" stroke-width="1" fill="none"/>
<rect x="572" y="418" width="3" height="56" fill="#0000ff"/>
<path d="M552.5 421.5 H571.5 V460 L567.5 470.5 H557.5 L552.5 460 Z" stroke="#0000ff" stroke-width="1" fill="none"/>
<path d="M554.5 429 V459 L558 466.5 H567 L570.5 459 V429" stroke="#0000ff" stroke-width="1" fill="none"/>
<path d="M552.5 443.5 h2 M571.5 443.5 h-2" stroke="#0000ff" stroke-width="1" fill="none"/>
<path d="M560.5 423.5 L562.5 423.5 L562.5 425.5 L560.5 425.5 Z" stroke="#0000ff" stroke-width="1" fill="none"/>
<path d="M558 418.5 L560.5 421 H563.5 L566 418.5" stroke="#0000ff" stroke-width="1" fill="none"/>
<rect x="601" y="464" width="20" height="10" fill="#00ffff"/>
<rect x="603" y="467" width="16" height="5" fill="#000"/>
<path d="M609 442.5 H612 L618.5 450.5 V453 L617 457 L615.5 464 M609 442.5 L603.5 450.5 V453 L605 457 L606.5 464" stroke="#00ffff" stroke-width="1" fill="none"/>
<path d="M609.5 443.5 h2 L617.5 451 L615.5 457 L614.5 463 M609.5 443.5 L604.5 451 L606.5 457 L607.5 463" stroke="#00ffff" stroke-width="1" fill="none"/>
<path d="M607.5 458.5 Q611 462.5 614.5 458.5" stroke="#00ffff" stroke-width="1" fill="none"/>
<rect x="239" y="440" width="8" height="21" fill="#00ffff"/>
<rect x="241" y="442" width="4" height="17" fill="#000"/>
<rect x="247" y="456" width="2" height="4" fill="#00ffff"/>
<path d="M247 445.5 L252 445 L255.5 443.5 L262.5 442.5 L269.5 450.5 L262.5 457.5 L255.5 456 L252 455.5 L247 455.5" stroke="#00ffff" stroke-width="1" fill="none"/>
<path d="M252.5 446 V454.5 M252.5 446.5 L256 445 L262 443.5 L268.5 450.5 L262 456.5 L256 455 L252.5 454.5" stroke="#00ffff" stroke-width="1" fill="none"/>
<path d="M60 43.5h1M44 44.5h1M47 44.5h6M60 44.5h1M44 45.5h4M52 45.5h1M60 45.5h1M44 46.5h1M47 46.5h2M52 46.5h1M60 46.5h1M70 46.5h7M44 47.5h1M47 47.5h3M52 47.5h1M60 47.5h1M44 48.5h1M47 48.5h1M49 48.5h1M52 48.5h1M60 48.5h1M44 49.5h1M46 49.5h2M49 49.5h1M52 49.5h1M60 49.5h1M44 50.5h1M46 50.5h1M48 50.5h1M52 50.5h1M60 50.5h6M44 51.5h1M47 51.5h3M52 51.5h1M56 51.5h5M70 51.5h6M44 52.5h1M46 52.5h2M50 52.5h3M60 52.5h1M71 52.5h1M44 53.5h5M51 53.5h2M60 53.5h1M44 54.5h1M48 54.5h2M52 54.5h1M60 54.5h1M44 55.5h1M49 55.5h2M52 55.5h1M60 55.5h1M44 56.5h1M47 56.5h3M52 56.5h1M60 56.5h1M44 57.5h1M46 57.5h2M52 57.5h1M60 57.5h1M68 57.5h10M44 58.5h1M46 58.5h7M60 58.5h1M44 59.5h2M60 59.5h2M44 60.5h1" stroke="#0000ff" stroke-width="1" fill="none"/>
<path d="M211 37.5h1M219 37.5h2M226 37.5h2M207 38.5h1M211 38.5h1M218 38.5h1M221 38.5h1M225 38.5h1M227 38.5h1M244 38.5h1M249 38.5h1M251 38.5h1M260 38.5h2M207 39.5h1M211 39.5h1M218 39.5h1M222 39.5h1M225 39.5h1M228 39.5h1M244 39.5h2M247 39.5h1M249 39.5h1M251 39.5h1M258 39.5h1M261 39.5h1M207 40.5h1M211 40.5h1M218 40.5h1M222 40.5h1M225 40.5h1M231 40.5h2M235 40.5h6M245 40.5h1M247 40.5h1M249 40.5h1M251 40.5h1M258 40.5h1M261 40.5h1M207 41.5h1M211 41.5h4M217 41.5h1M222 41.5h1M224 41.5h1M232 41.5h4M237 41.5h1M240 41.5h1M247 41.5h1M249 41.5h1M251 41.5h1M258 41.5h1M261 41.5h1M207 42.5h1M210 42.5h1M214 42.5h1M217 42.5h1M222 42.5h1M224 42.5h1M232 42.5h1M235 42.5h1M237 42.5h1M240 42.5h1M243 42.5h1M247 42.5h1M249 42.5h1M251 42.5h1M258 42.5h1M261 42.5h4M206 43.5h5M212 43.5h1M214 43.5h1M217 43.5h1M222 43.5h1M224 43.5h1M226 43.5h2M232 43.5h1M235 43.5h1M237 43.5h1M240 43.5h1M244 43.5h1M246 43.5h8M258 43.5h4M207 44.5h1M209 44.5h2M212 44.5h3M218 44.5h1M222 44.5h1M224 44.5h2M228 44.5h1M232 44.5h1M234 44.5h1M237 44.5h1M240 44.5h1M245 44.5h1M247 44.5h1M249 44.5h1M251 44.5h1M257 44.5h2M261 44.5h1M207 45.5h1M209 45.5h1M212 45.5h1M218 45.5h1M222 45.5h1M224 45.5h2M228 45.5h1M232 45.5h1M234 45.5h1M237 45.5h1M240 45.5h1M247 45.5h1M249 45.5h1M251 45.5h1M257 45.5h1M261 45.5h1M207 46.5h1M212 46.5h1M219 46.5h1M221 46.5h2M224 46.5h1M228 46.5h1M232 46.5h1M234 46.5h1M237 46.5h4M245 46.5h3M249 46.5h1M251 46.5h1M257 46.5h1M261 46.5h3M207 47.5h1M209 47.5h1M211 47.5h2M219 47.5h2M222 47.5h1M224 47.5h1M229 47.5h1M232 47.5h3M240 47.5h1M245 47.5h1M247 47.5h1M249 47.5h1M251 47.5h1M258 47.5h4M207 48.5h2M211 48.5h3M222 48.5h1M224 48.5h1M229 48.5h1M232 48.5h2M240 48.5h1M245 48.5h1M247 48.5h1M249 48.5h3M261 48.5h1M206 49.5h2M211 49.5h1M213 49.5h1M221 49.5h1M224 49.5h1M229 49.5h1M232 49.5h1M239 49.5h2M245 49.5h1M247 49.5h1M249 49.5h1M261 49.5h1M206 50.5h1M210 50.5h1M213 50.5h2M221 50.5h1M225 50.5h1M228 50.5h1M232 50.5h9M244 50.5h2M247 50.5h1M261 50.5h1M209 51.5h2M214 51.5h1M218 51.5h1M221 51.5h1M225 51.5h1M228 51.5h1M232 51.5h1M244 51.5h1M247 51.5h6M256 51.5h11M209 52.5h1M215 52.5h1M219 52.5h1M221 52.5h1M226 52.5h1M228 52.5h1M232 52.5h1M244 52.5h1M247 52.5h2M208 53.5h1M219 53.5h2M226 53.5h2" stroke="#00ff00" stroke-width="1" fill="none"/>
<path d="M415 7.5h1M424 7.5h3M431 7.5h3M464 7.5h1M415 8.5h1M424 8.5h1M427 8.5h1M431 8.5h1M434 8.5h1M451 8.5h2M464 8.5h1M468 8.5h1M400 9.5h7M415 9.5h1M423 9.5h1M428 9.5h1M430 9.5h1M434 9.5h1M451 9.5h2M454 9.5h5M464 9.5h1M468 9.5h1M400 10.5h3M406 10.5h1M414 10.5h2M423 10.5h1M428 10.5h1M430 10.5h1M434 10.5h1M451 10.5h1M455 10.5h1M458 10.5h1M463 10.5h4M468 10.5h1M402 11.5h1M406 11.5h1M412 11.5h1M414 11.5h6M423 11.5h1M428 11.5h1M430 11.5h1M434 11.5h1M438 11.5h1M441 11.5h4M451 11.5h1M453 11.5h1M455 11.5h4M463 11.5h1M465 11.5h2M468 11.5h4M402 12.5h1M406 12.5h1M412 12.5h4M419 12.5h1M428 12.5h1M430 12.5h1M434 12.5h1M439 12.5h2M450 12.5h2M453 12.5h5M462 12.5h2M465 12.5h1M468 12.5h1M470 12.5h1M402 13.5h1M405 13.5h2M412 13.5h1M419 13.5h1M428 13.5h1M430 13.5h1M433 13.5h1M450 13.5h1M452 13.5h3M458 13.5h1M462 13.5h1M465 13.5h4M470 13.5h1M402 14.5h1M405 14.5h1M412 14.5h1M414 14.5h1M419 14.5h1M428 14.5h1M431 14.5h3M451 14.5h8M463 14.5h2M466 14.5h4M398 15.5h1M401 15.5h8M412 15.5h1M414 15.5h4M419 15.5h1M427 15.5h1M431 15.5h1M434 15.5h1M451 15.5h2M454 15.5h1M456 15.5h1M458 15.5h1M466 15.5h1M468 15.5h2M399 16.5h4M405 16.5h1M412 16.5h1M414 16.5h1M417 16.5h1M419 16.5h1M427 16.5h1M430 16.5h1M434 16.5h1M451 16.5h1M454 16.5h1M456 16.5h1M458 16.5h1M462 16.5h6M469 16.5h1M402 17.5h1M405 17.5h1M412 17.5h1M414 17.5h1M417 17.5h1M419 17.5h1M426 17.5h1M430 17.5h1M434 17.5h1M451 17.5h4M456 17.5h1M458 17.5h1M466 17.5h1M468 17.5h3M402 18.5h1M405 18.5h1M412 18.5h1M414 18.5h1M417 18.5h1M419 18.5h1M426 18.5h1M430 18.5h1M434 18.5h1M450 18.5h3M454 18.5h5M466 18.5h1M468 18.5h1M470 18.5h1M401 19.5h2M405 19.5h1M412 19.5h1M414 19.5h4M419 19.5h1M425 19.5h1M430 19.5h1M434 19.5h1M454 19.5h1M459 19.5h1M463 19.5h5M471 19.5h1M401 20.5h1M405 20.5h1M412 20.5h1M414 20.5h1M419 20.5h1M425 20.5h1M430 20.5h1M434 20.5h1M437 20.5h10M452 20.5h3M459 20.5h1M467 20.5h1M471 20.5h1M401 21.5h1M405 21.5h1M412 21.5h1M419 21.5h1M424 21.5h1M430 21.5h1M434 21.5h1M451 21.5h2M454 21.5h1M459 21.5h1M463 21.5h1M465 21.5h1M467 21.5h1M470 21.5h1M399 22.5h9M412 22.5h1M417 22.5h3M424 22.5h1M430 22.5h1M434 22.5h1M450 22.5h2M454 22.5h1M459 22.5h1M463 22.5h1M465 22.5h2M468 22.5h1M470 22.5h2M412 23.5h1M418 23.5h2M423 23.5h6M431 23.5h3M454 23.5h6M462 23.5h2M466 23.5h1M468 23.5h1M471 23.5h1M412 24.5h1M419 24.5h1M462 24.5h1" stroke="#00ff00" stroke-width="1" fill="none"/>
<path d="M59 127.5h1M65 127.5h1M45 128.5h1M50 128.5h1M59 128.5h1M64 128.5h2M73 128.5h1M45 129.5h1M49 129.5h2M58 129.5h2M64 129.5h2M73 129.5h1M82 129.5h1M87 129.5h4M95 129.5h1M98 129.5h5M43 130.5h5M49 130.5h1M58 130.5h2M63 130.5h1M65 130.5h1M73 130.5h1M82 130.5h4M87 130.5h1M90 130.5h1M95 130.5h3M99 130.5h1M45 131.5h1M49 131.5h5M58 131.5h2M65 131.5h1M73 131.5h1M87 131.5h1M90 131.5h1M97 131.5h1M99 131.5h2M44 132.5h2M49 132.5h1M57 132.5h1M59 132.5h1M65 132.5h1M73 132.5h1M81 132.5h5M87 132.5h1M90 132.5h1M96 132.5h2M100 132.5h1M44 133.5h5M57 133.5h1M59 133.5h1M65 133.5h1M70 133.5h7M83 133.5h1M87 133.5h4M96 133.5h1M98 133.5h1M100 133.5h1M102 133.5h1M44 134.5h1M47 134.5h2M56 134.5h1M59 134.5h1M65 134.5h1M73 134.5h1M76 134.5h1M83 134.5h1M87 134.5h2M96 134.5h3M100 134.5h1M102 134.5h1M44 135.5h8M56 135.5h1M59 135.5h1M65 135.5h1M73 135.5h1M76 135.5h1M82 135.5h2M85 135.5h1M88 135.5h1M95 135.5h2M98 135.5h1M100 135.5h1M102 135.5h1M44 136.5h1M47 136.5h1M51 136.5h1M56 136.5h1M59 136.5h1M65 136.5h1M73 136.5h1M76 136.5h1M82 136.5h2M85 136.5h7M95 136.5h2M98 136.5h1M100 136.5h2M44 137.5h4M50 137.5h1M55 137.5h1M59 137.5h1M65 137.5h1M72 137.5h2M76 137.5h1M82 137.5h2M85 137.5h2M88 137.5h1M91 137.5h1M94 137.5h5M100 137.5h1M44 138.5h2M50 138.5h1M55 138.5h6M65 138.5h1M72 138.5h1M76 138.5h1M79 138.5h1M82 138.5h2M85 138.5h2M88 138.5h2M91 138.5h1M94 138.5h1M97 138.5h1M100 138.5h1M103 138.5h1M43 139.5h1M45 139.5h3M49 139.5h1M53 139.5h1M59 139.5h1M65 139.5h1M72 139.5h1M76 139.5h1M79 139.5h1M82 139.5h2M85 139.5h2M88 139.5h2M91 139.5h1M97 139.5h1M100 139.5h1M103 139.5h1M43 140.5h4M48 140.5h2M53 140.5h1M59 140.5h1M65 140.5h1M71 140.5h2M76 140.5h1M79 140.5h1M82 140.5h2M85 140.5h3M90 140.5h2M96 140.5h2M100 140.5h1M103 140.5h1M45 141.5h1M49 141.5h1M53 141.5h1M59 141.5h1M65 141.5h1M71 141.5h1M76 141.5h1M79 141.5h1M82 141.5h2M85 141.5h3M91 141.5h1M96 141.5h1M100 141.5h1M103 141.5h1M45 142.5h1M49 142.5h1M53 142.5h1M59 142.5h1M65 142.5h1M70 142.5h1M76 142.5h1M78 142.5h2M82 142.5h2M86 142.5h1M89 142.5h1M91 142.5h1M95 142.5h2M100 142.5h1M103 142.5h1M45 143.5h1M49 143.5h4M59 143.5h1M65 143.5h1M69 143.5h2M76 143.5h3M83 143.5h1M86 143.5h1M90 143.5h2M94 143.5h2M100 143.5h4M84 144.5h1M94 144.5h1" stroke="#00ff00" stroke-width="1" fill="none"/>
<path d="M74 429.5h2M82 429.5h5M90 429.5h2M122 429.5h1M73 430.5h1M75 430.5h1M86 430.5h1M89 430.5h1M91 430.5h1M112 430.5h1M122 430.5h1M126 430.5h1M73 431.5h1M75 431.5h2M85 431.5h1M89 431.5h1M92 431.5h1M112 431.5h1M122 431.5h1M126 431.5h1M72 432.5h1M76 432.5h1M85 432.5h1M89 432.5h1M92 432.5h1M112 432.5h1M121 432.5h4M126 432.5h1M71 433.5h2M77 433.5h1M85 433.5h1M88 433.5h1M93 433.5h1M112 433.5h1M121 433.5h1M123 433.5h2M126 433.5h4M71 434.5h8M85 434.5h1M88 434.5h1M93 434.5h1M112 434.5h1M120 434.5h2M123 434.5h1M126 434.5h1M128 434.5h1M70 435.5h3M76 435.5h1M78 435.5h1M84 435.5h1M88 435.5h1M93 435.5h1M108 435.5h10M120 435.5h1M123 435.5h4M128 435.5h1M70 436.5h1M72 436.5h1M76 436.5h1M84 436.5h2M89 436.5h1M93 436.5h1M121 436.5h2M124 436.5h5M72 437.5h1M76 437.5h1M86 437.5h1M89 437.5h1M92 437.5h2M95 437.5h1M98 437.5h7M124 437.5h1M126 437.5h2M72 438.5h1M75 438.5h2M86 438.5h1M89 438.5h1M92 438.5h2M96 438.5h2M110 438.5h2M114 438.5h1M120 438.5h6M127 438.5h1M72 439.5h5M86 439.5h1M90 439.5h2M93 439.5h1M111 439.5h1M114 439.5h1M124 439.5h1M126 439.5h3M72 440.5h2M75 440.5h1M86 440.5h1M93 440.5h1M110 440.5h1M114 440.5h2M124 440.5h1M126 440.5h1M128 440.5h1M73 441.5h1M75 441.5h1M79 441.5h1M86 441.5h1M93 441.5h1M110 441.5h1M115 441.5h1M121 441.5h6M129 441.5h1M72 442.5h1M75 442.5h1M79 442.5h1M81 442.5h1M86 442.5h1M92 442.5h1M109 442.5h2M115 442.5h2M125 442.5h1M129 442.5h1M72 443.5h1M75 443.5h1M79 443.5h1M81 443.5h1M86 443.5h1M92 443.5h1M109 443.5h1M116 443.5h1M121 443.5h1M123 443.5h1M125 443.5h1M128 443.5h1M71 444.5h1M75 444.5h1M78 444.5h2M82 444.5h1M86 444.5h1M89 444.5h1M92 444.5h1M108 444.5h1M116 444.5h1M121 444.5h1M123 444.5h2M126 444.5h1M128 444.5h2M70 445.5h1M75 445.5h4M83 445.5h3M90 445.5h2M108 445.5h1M120 445.5h2M124 445.5h1M126 445.5h1M129 445.5h1M120 446.5h1" stroke="#00ff00" stroke-width="1" fill="none"/>
<path d="M284 501.5h1M305 501.5h3M311 501.5h5M284 502.5h1M296 502.5h1M305 502.5h1M308 502.5h1M311 502.5h1M346 502.5h2M284 503.5h1M296 503.5h1M304 503.5h1M308 503.5h1M311 503.5h1M323 503.5h3M336 503.5h3M344 503.5h1M347 503.5h1M284 504.5h1M287 504.5h1M296 504.5h1M304 504.5h1M308 504.5h1M311 504.5h1M318 504.5h6M326 504.5h1M331 504.5h5M338 504.5h1M344 504.5h1M347 504.5h1M281 505.5h7M296 505.5h1M304 505.5h1M308 505.5h1M310 505.5h1M322 505.5h1M334 505.5h1M344 505.5h1M347 505.5h1M284 506.5h1M296 506.5h1M304 506.5h1M308 506.5h1M310 506.5h1M312 506.5h2M322 506.5h1M334 506.5h1M344 506.5h1M347 506.5h4M284 507.5h1M293 507.5h1M296 507.5h1M300 507.5h1M304 507.5h1M307 507.5h1M310 507.5h2M314 507.5h1M321 507.5h2M334 507.5h1M344 507.5h4M280 508.5h9M293 508.5h1M296 508.5h1M300 508.5h1M305 508.5h3M310 508.5h1M315 508.5h1M321 508.5h1M323 508.5h2M334 508.5h1M336 508.5h2M343 508.5h2M347 508.5h1M281 509.5h1M283 509.5h3M293 509.5h1M296 509.5h1M300 509.5h1M305 509.5h1M308 509.5h1M315 509.5h1M319 509.5h5M325 509.5h1M331 509.5h5M337 509.5h1M343 509.5h1M347 509.5h1M283 510.5h3M293 510.5h1M296 510.5h1M300 510.5h1M304 510.5h1M308 510.5h1M315 510.5h1M321 510.5h1M325 510.5h1M333 510.5h2M337 510.5h1M343 510.5h1M347 510.5h3M282 511.5h5M293 511.5h1M296 511.5h1M300 511.5h1M304 511.5h1M308 511.5h1M315 511.5h1M321 511.5h1M325 511.5h1M333 511.5h1M337 511.5h1M344 511.5h4M282 512.5h1M284 512.5h1M286 512.5h2M293 512.5h1M296 512.5h1M300 512.5h1M304 512.5h1M308 512.5h1M315 512.5h1M321 512.5h1M325 512.5h1M333 512.5h1M337 512.5h1M347 512.5h1M281 513.5h1M284 513.5h1M287 513.5h1M293 513.5h1M296 513.5h1M300 513.5h1M304 513.5h1M308 513.5h1M310 513.5h1M315 513.5h1M321 513.5h1M324 513.5h1M333 513.5h1M337 513.5h1M347 513.5h1M280 514.5h2M284 514.5h1M288 514.5h2M293 514.5h1M296 514.5h1M299 514.5h2M304 514.5h1M308 514.5h1M310 514.5h1M315 514.5h1M321 514.5h1M324 514.5h1M333 514.5h1M337 514.5h1M347 514.5h1M279 515.5h2M284 515.5h1M293 515.5h6M300 515.5h1M304 515.5h1M308 515.5h1M311 515.5h1M315 515.5h1M317 515.5h11M330 515.5h10M342 515.5h11M284 516.5h1M300 516.5h1M304 516.5h1M307 516.5h1M311 516.5h1M314 516.5h1M284 517.5h1M305 517.5h3M312 517.5h2" stroke="#00ff00" stroke-width="1" fill="none"/>
<path d="M515 500.5h1M525 500.5h1M529 500.5h6M515 501.5h1M524 501.5h2M534 501.5h1M511 502.5h1M514 502.5h6M524 502.5h2M534 502.5h1M553 502.5h5M562 502.5h1M565 502.5h5M511 503.5h3M516 503.5h1M523 503.5h1M525 503.5h1M533 503.5h1M538 503.5h7M550 503.5h4M562 503.5h3M566 503.5h1M512 504.5h1M514 504.5h1M516 504.5h1M518 504.5h1M525 504.5h1M533 504.5h1M553 504.5h1M564 504.5h1M566 504.5h2M512 505.5h1M514 505.5h3M518 505.5h1M525 505.5h1M533 505.5h1M553 505.5h1M563 505.5h2M567 505.5h1M512 506.5h1M514 506.5h5M525 506.5h1M533 506.5h1M553 506.5h1M563 506.5h1M565 506.5h1M567 506.5h1M569 506.5h1M512 507.5h3M518 507.5h1M525 507.5h1M533 507.5h1M553 507.5h1M555 507.5h3M563 507.5h3M567 507.5h1M569 507.5h1M512 508.5h7M525 508.5h1M532 508.5h1M538 508.5h6M549 508.5h6M562 508.5h2M565 508.5h1M567 508.5h1M569 508.5h1M511 509.5h1M515 509.5h1M525 509.5h1M532 509.5h1M539 509.5h1M553 509.5h2M562 509.5h2M565 509.5h1M567 509.5h2M511 510.5h9M525 510.5h1M532 510.5h1M552 510.5h3M561 510.5h5M567 510.5h1M511 511.5h1M514 511.5h1M519 511.5h1M525 511.5h1M532 511.5h1M552 511.5h1M554 511.5h2M561 511.5h1M564 511.5h1M567 511.5h1M570 511.5h1M511 512.5h1M514 512.5h1M516 512.5h1M519 512.5h1M525 512.5h1M532 512.5h1M552 512.5h1M555 512.5h1M564 512.5h1M567 512.5h1M570 512.5h1M511 513.5h1M514 513.5h4M519 513.5h1M525 513.5h1M532 513.5h1M551 513.5h1M555 513.5h2M563 513.5h2M567 513.5h1M570 513.5h1M511 514.5h1M513 514.5h3M517 514.5h1M519 514.5h1M525 514.5h1M531 514.5h1M536 514.5h10M550 514.5h2M556 514.5h2M563 514.5h1M567 514.5h1M570 514.5h1M511 515.5h1M517 515.5h1M519 515.5h1M525 515.5h1M531 515.5h1M550 515.5h1M557 515.5h2M562 515.5h2M567 515.5h1M570 515.5h1M511 516.5h1M518 516.5h2M525 516.5h1M531 516.5h1M549 516.5h1M558 516.5h1M561 516.5h2M567 516.5h4M561 517.5h1" stroke="#00ff00" stroke-width="1" fill="none"/>
<path d="M638 63.5h7M637 64.5h1M641 64.5h1M637 65.5h1M639 65.5h8M637 66.5h3M641 66.5h2M645 66.5h2M636 67.5h1M638 67.5h2M641 67.5h5M636 68.5h1M638 68.5h1M641 68.5h3M639 69.5h1M641 69.5h1M644 69.5h1M637 70.5h8M637 71.5h1M637 72.5h8M637 73.5h1M637 74.5h9M637 75.5h1M639 75.5h1M641 75.5h1M644 75.5h1M636 76.5h2M639 76.5h1M642 76.5h2M636 77.5h1M639 77.5h3M643 77.5h2M635 78.5h6M644 78.5h3M635 79.5h1" stroke="#00ff00" stroke-width="1" fill="none"/>
<path d="M636 89.5h5M645 89.5h1M640 90.5h1M645 90.5h1M639 91.5h1M644 91.5h2M639 92.5h1M644 92.5h2M639 93.5h1M643 93.5h1M645 93.5h1M639 94.5h1M643 94.5h1M645 94.5h1M638 95.5h1M643 95.5h1M645 95.5h1M638 96.5h1M642 96.5h1M645 96.5h1M638 97.5h1M642 97.5h5M638 98.5h1M645 98.5h1M637 99.5h1M645 99.5h1M637 100.5h1M645 100.5h1M637 101.5h1M645 101.5h1" stroke="#00ff00" stroke-width="1" fill="none"/>
<path d="M640 114.5h2M641 115.5h1M641 116.5h1M641 117.5h1M641 118.5h1M644 118.5h3M635 119.5h10M646 119.5h1M639 121.5h1M639 122.5h1M643 122.5h1M639 123.5h1M643 123.5h1M638 124.5h1M644 124.5h1M637 125.5h2M644 125.5h2M637 126.5h1M645 126.5h1M636 127.5h2M645 127.5h1M636 128.5h1" stroke="#00ff00" stroke-width="1" fill="none"/>
<path d="M645 139.5h1M643 140.5h2M636 141.5h3M641 141.5h3M638 142.5h1M640 142.5h2M643 142.5h1M638 143.5h1M643 143.5h1M637 144.5h1M641 144.5h1M643 144.5h1M637 145.5h1M641 145.5h1M643 145.5h3M637 146.5h3M641 146.5h1M643 146.5h1M638 147.5h2M641 147.5h1M643 147.5h1M638 148.5h1M641 148.5h1M643 148.5h1M636 149.5h3M640 149.5h7M637 150.5h3M637 151.5h1M639 151.5h3M636 152.5h2M641 152.5h3M635 153.5h2M644 153.5h4M635 154.5h1" stroke="#00ff00" stroke-width="1" fill="none"/>
<path d="M636 165.5h10M637 166.5h1M639 166.5h1M642 166.5h1M638 167.5h2M642 167.5h1M638 168.5h1M642 168.5h1M638 169.5h3M642 169.5h1M645 169.5h1M637 170.5h2M640 170.5h1M642 170.5h1M645 170.5h1M637 171.5h1M640 171.5h1M642 171.5h1M644 171.5h1M636 172.5h3M640 172.5h1M642 172.5h2M636 173.5h1M638 173.5h3M642 173.5h1M646 173.5h1M639 174.5h1M642 174.5h1M646 174.5h1M638 175.5h2M642 175.5h1M646 175.5h1M638 176.5h1M642 176.5h1M646 176.5h1M637 177.5h1M642 177.5h1M646 177.5h1M636 178.5h2M642 178.5h4M636 179.5h1" stroke="#00ff00" stroke-width="1" fill="none"/>
<path d="M660 297.5h1M665 297.5h3M660 298.5h4M665 298.5h1M667 298.5h1M660 299.5h1M663 299.5h1M665 299.5h1M667 299.5h1M660 300.5h10M660 301.5h1M664 301.5h2M668 301.5h1M660 302.5h1M663 302.5h3M667 302.5h2M660 303.5h4M665 303.5h3M662 304.5h1M665 304.5h1M662 305.5h1M665 305.5h4M660 306.5h6M662 307.5h1M665 307.5h1M658 308.5h1M661 308.5h9M659 309.5h4M662 310.5h1M665 310.5h2M661 311.5h2M666 311.5h2M659 312.5h3M668 312.5h1M659 313.5h1M668 313.5h1" stroke="#00ff00" stroke-width="1" fill="none"/>
<path d="M661 322.5h2M665 322.5h5M660 323.5h1M662 323.5h1M669 323.5h1M660 324.5h1M663 324.5h1M668 324.5h1M660 325.5h1M668 325.5h1M659 326.5h1M667 326.5h1M659 327.5h4M667 327.5h2M659 328.5h1M663 328.5h1M669 328.5h1M659 329.5h1M663 329.5h1M669 329.5h1M659 330.5h1M663 330.5h1M669 330.5h1M659 331.5h1M663 331.5h1M669 331.5h1M659 332.5h1M663 332.5h1M669 332.5h1M659 333.5h1M663 333.5h1M665 333.5h1M669 333.5h1M659 334.5h1M663 334.5h1M665 334.5h1M669 334.5h1M660 335.5h1M663 335.5h1M665 335.5h1M668 335.5h1M660 336.5h3M666 336.5h3" stroke="#00ff00" stroke-width="1" fill="none"/>
<path d="M663 347.5h1M663 348.5h1M663 349.5h1M663 350.5h1M663 351.5h1M663 352.5h1M663 353.5h1M665 353.5h5M660 354.5h5M658 355.5h3M663 355.5h1M663 356.5h1M663 357.5h1M663 358.5h1M663 359.5h1M663 360.5h2M667 360.5h3M664 361.5h4" stroke="#00ff00" stroke-width="1" fill="none"/>
<path d="M661 370.5h1M661 371.5h1M665 371.5h1M661 372.5h1M665 372.5h1M661 373.5h1M665 373.5h1M667 373.5h1M661 374.5h1M665 374.5h1M667 374.5h2M660 375.5h1M665 375.5h1M668 375.5h1M660 376.5h1M665 376.5h1M659 377.5h4M664 377.5h6M659 378.5h2M662 378.5h2M665 378.5h1M659 379.5h2M665 379.5h2M658 380.5h1M660 380.5h1M664 380.5h3M660 381.5h1M664 381.5h1M666 381.5h1M660 382.5h1M664 382.5h1M666 382.5h2M660 383.5h1M664 383.5h1M667 383.5h1M660 384.5h1M663 384.5h1M667 384.5h2M660 385.5h1M663 385.5h1M668 385.5h1M660 386.5h1M662 386.5h1M669 386.5h1M660 387.5h3M669 387.5h1" stroke="#00ff00" stroke-width="1" fill="none"/>
<path d="M659 401.5h11M659 402.5h2M662 402.5h1M666 402.5h1M659 403.5h1M662 403.5h1M666 403.5h1M659 404.5h1M662 404.5h1M666 404.5h1M659 405.5h4M666 405.5h1M659 406.5h1M662 406.5h7M659 407.5h1M662 407.5h1M666 407.5h1M659 408.5h1M662 408.5h1M666 408.5h1M659 409.5h4M666 409.5h1M659 410.5h1M662 410.5h1M666 410.5h1M663 411.5h7" stroke="#00ff00" stroke-width="1" fill="none"/>
<path d="M343 54.5h1M331 55.5h2M343 55.5h1M331 56.5h1M333 56.5h5M342 56.5h2M331 57.5h2M334 57.5h1M337 57.5h1M342 57.5h1M344 57.5h2M331 58.5h2M334 58.5h1M337 58.5h1M342 58.5h1M345 58.5h1M331 59.5h2M334 59.5h1M337 59.5h1M341 59.5h1M343 59.5h4M331 60.5h7M340 60.5h4M346 60.5h1M331 61.5h1M333 61.5h2M337 61.5h1M331 62.5h4M337 62.5h1M341 62.5h5M331 63.5h1M334 63.5h1M337 63.5h1M341 63.5h1M345 63.5h1M331 64.5h1M334 64.5h1M337 64.5h1M341 64.5h1M345 64.5h1M331 65.5h1M334 65.5h4M341 65.5h1M345 65.5h1M331 66.5h1M334 66.5h1M341 66.5h5M331 67.5h1M341 67.5h1" stroke="#00ff00" stroke-width="1" fill="none"/>
<path d="M251 131.5h7M261 131.5h1M263 131.5h3M251 132.5h1M256 132.5h1M261 132.5h2M251 133.5h4M256 133.5h1M261 133.5h5M251 134.5h1M256 134.5h1M261 134.5h1M264 134.5h2M251 135.5h7M261 135.5h4M251 136.5h2M254 136.5h1M256 136.5h1M261 136.5h1M264 136.5h1M266 136.5h1M251 137.5h6M261 137.5h5M251 138.5h1M254 138.5h3M261 138.5h1M263 138.5h3M251 139.5h4M256 139.5h1M260 139.5h1M263 139.5h1M265 139.5h1M250 140.5h1M253 140.5h4M260 140.5h1M262 140.5h1M265 140.5h1M250 141.5h1M252 141.5h1M255 141.5h2M260 141.5h6" stroke="#00ff00" stroke-width="1" fill="none"/>
<path d="M389 167.5h1M389 168.5h1M396 168.5h1M399 168.5h4M386 169.5h7M396 169.5h3M386 170.5h1M388 170.5h1M392 170.5h1M396 170.5h1M386 171.5h1M388 171.5h5M396 171.5h1M400 171.5h3M387 172.5h2M390 172.5h1M396 172.5h1M398 172.5h3M386 173.5h5M396 173.5h1M400 173.5h1M388 174.5h3M396 174.5h1M400 174.5h1M387 175.5h2M391 175.5h2M396 175.5h1M400 175.5h1M385 176.5h7M396 176.5h1M400 176.5h1M387 177.5h1M391 177.5h1M395 177.5h1M400 177.5h1M387 178.5h5M395 178.5h1M399 178.5h2M395 179.5h1" stroke="#00ff00" stroke-width="1" fill="none"/>
<path d="M526 174.5h1M529 174.5h1M535 174.5h5M544 174.5h5M526 175.5h1M529 175.5h1M538 175.5h2M544 175.5h1M548 175.5h1M526 176.5h1M529 176.5h1M538 176.5h1M544 176.5h5M526 177.5h1M529 177.5h1M537 177.5h1M544 177.5h5M526 178.5h1M529 178.5h1M537 178.5h4M544 178.5h1M547 178.5h1M526 179.5h1M529 179.5h1M533 179.5h5M544 179.5h6M526 180.5h1M529 180.5h1M531 180.5h1M537 180.5h1M544 180.5h1M546 180.5h1M526 181.5h1M529 181.5h1M531 181.5h1M537 181.5h1M544 181.5h1M546 181.5h3M525 182.5h1M528 182.5h1M531 182.5h1M535 182.5h1M537 182.5h1M543 182.5h1M545 182.5h1M548 182.5h1M525 183.5h1M529 183.5h3M536 183.5h2M543 183.5h6M524 184.5h1M537 184.5h1M547 184.5h1" stroke="#00ff00" stroke-width="1" fill="none"/>
<path d="M566 246.5h1M566 247.5h1M573 247.5h5M563 248.5h7M573 248.5h1M577 248.5h1M563 249.5h1M565 249.5h1M568 249.5h2M573 249.5h5M563 250.5h1M565 250.5h3M573 250.5h5M564 251.5h4M573 251.5h1M576 251.5h1M563 252.5h1M565 252.5h2M573 252.5h6M564 253.5h2M567 253.5h2M573 253.5h1M575 253.5h1M562 254.5h8M572 254.5h2M575 254.5h3M564 255.5h1M567 255.5h2M572 255.5h1M574 255.5h1M577 255.5h1M564 256.5h4M572 256.5h6M564 257.5h1M576 257.5h1" stroke="#00ff00" stroke-width="1" fill="none"/>
<path d="M172 220.5h1M172 221.5h5M183 221.5h3M172 222.5h2M175 222.5h2M181 222.5h3M171 223.5h1M173 223.5h1M175 223.5h2M181 223.5h1M172 224.5h4M177 224.5h1M181 224.5h1M185 224.5h2M171 225.5h3M175 225.5h1M181 225.5h4M172 226.5h1M174 226.5h4M180 226.5h1M184 226.5h1M170 227.5h6M177 227.5h1M180 227.5h1M184 227.5h1M172 228.5h4M180 228.5h1M184 228.5h1M172 229.5h5M180 229.5h1M184 229.5h1M172 230.5h1M174 230.5h2M180 230.5h1M184 230.5h1M171 231.5h6M179 231.5h1M183 231.5h2M177 232.5h1M179 232.5h1" stroke="#00ff00" stroke-width="1" fill="none"/>
<path d="M59 192.5h1M59 193.5h1M61 193.5h2M66 193.5h5M59 194.5h4M66 194.5h5M58 195.5h2M61 195.5h1M66 195.5h1M71 195.5h1M59 196.5h1M61 196.5h1M66 196.5h6M57 197.5h6M66 197.5h1M69 197.5h3M59 198.5h1M62 198.5h1M66 198.5h3M59 199.5h1M62 199.5h1M66 199.5h1M68 199.5h3M59 200.5h1M61 200.5h2M66 200.5h1M68 200.5h1M70 200.5h1M59 201.5h1M65 201.5h1M67 201.5h1M69 201.5h2M59 202.5h1M69 202.5h2" stroke="#00ff00" stroke-width="1" fill="none"/>
<path d="M257 349.5h1M253 350.5h1M255 350.5h1M257 350.5h1M266 350.5h2M273 350.5h6M253 351.5h3M257 351.5h1M263 351.5h3M273 351.5h1M275 351.5h1M278 351.5h1M255 352.5h4M265 352.5h1M272 352.5h1M278 352.5h1M252 353.5h1M255 353.5h1M257 353.5h1M263 353.5h5M272 353.5h1M274 353.5h3M278 353.5h1M253 354.5h1M255 354.5h1M257 354.5h1M265 354.5h1M272 354.5h1M274 354.5h1M276 354.5h1M278 354.5h1M254 355.5h6M266 355.5h1M272 355.5h1M274 355.5h3M278 355.5h1M254 356.5h1M256 356.5h2M262 356.5h8M272 356.5h1M274 356.5h1M276 356.5h1M278 356.5h1M253 357.5h1M256 357.5h2M266 357.5h1M272 357.5h1M274 357.5h1M276 357.5h1M278 357.5h1M253 358.5h1M256 358.5h2M260 358.5h1M266 358.5h1M272 358.5h1M274 358.5h3M278 358.5h1M253 359.5h1M255 359.5h1M257 359.5h1M260 359.5h1M266 359.5h1M272 359.5h1M278 359.5h1M252 360.5h1M254 360.5h2M257 360.5h4M264 360.5h3M272 360.5h1M277 360.5h2M254 361.5h1M278 361.5h1" stroke="#00ff00" stroke-width="1" fill="none"/>
<path d="M325 359.5h1M325 360.5h1M332 360.5h1M334 360.5h4M322 361.5h7M332 361.5h3M322 362.5h1M324 362.5h1M328 362.5h1M332 362.5h6M322 363.5h1M324 363.5h5M332 363.5h1M336 363.5h2M323 364.5h2M326 364.5h1M332 364.5h5M322 365.5h5M332 365.5h1M335 365.5h1M338 365.5h1M324 366.5h3M332 366.5h6M323 367.5h2M327 367.5h2M332 367.5h1M335 367.5h3M321 368.5h7M332 368.5h1M334 368.5h1M337 368.5h1M323 369.5h1M327 369.5h1M332 369.5h1M334 369.5h1M337 369.5h1M323 370.5h5M331 370.5h1M333 370.5h1M335 370.5h3M336 371.5h1" stroke="#00ff00" stroke-width="1" fill="none"/>
<path d="M491 384.5h1M491 385.5h2M501 385.5h1M508 385.5h1M510 385.5h3M492 386.5h1M501 386.5h1M508 386.5h2M489 387.5h6M501 387.5h1M508 387.5h5M492 388.5h1M501 388.5h1M508 388.5h1M512 388.5h1M492 389.5h1M501 389.5h1M508 389.5h4M492 390.5h1M500 390.5h2M508 390.5h1M511 390.5h1M513 390.5h1M490 391.5h5M500 391.5h1M502 391.5h1M508 391.5h5M492 392.5h1M500 392.5h1M502 392.5h1M508 392.5h1M510 392.5h3M492 393.5h1M499 393.5h1M503 393.5h1M507 393.5h2M510 393.5h1M512 393.5h1M492 394.5h1M498 394.5h2M503 394.5h2M507 394.5h1M509 394.5h1M512 394.5h1M489 395.5h7M498 395.5h1M504 395.5h1M507 395.5h6" stroke="#00ff00" stroke-width="1" fill="none"/>
<path d="M589 354.5h1M575 355.5h1M577 355.5h1M579 355.5h1M587 355.5h2M594 355.5h1M596 355.5h4M575 356.5h3M579 356.5h1M585 356.5h3M594 356.5h1M599 356.5h1M577 357.5h4M587 357.5h1M593 357.5h1M599 357.5h1M575 358.5h1M577 358.5h1M579 358.5h1M585 358.5h5M593 358.5h1M595 358.5h3M599 358.5h1M575 359.5h1M577 359.5h1M579 359.5h3M587 359.5h1M593 359.5h1M595 359.5h1M597 359.5h1M599 359.5h1M576 360.5h5M584 360.5h7M593 360.5h1M595 360.5h3M599 360.5h1M575 361.5h2M578 361.5h2M587 361.5h1M593 361.5h1M595 361.5h1M597 361.5h1M599 361.5h1M575 362.5h1M577 362.5h3M582 362.5h1M587 362.5h1M593 362.5h1M595 362.5h3M599 362.5h1M575 363.5h1M577 363.5h1M579 363.5h1M581 363.5h1M587 363.5h1M593 363.5h1M595 363.5h1M599 363.5h1M575 364.5h3M579 364.5h3M586 364.5h2M593 364.5h1M598 364.5h2M576 365.5h1M599 365.5h1" stroke="#00ff00" stroke-width="1" fill="none"/>
<path d="M267 423.5h8M279 423.5h1M282 423.5h2M267 424.5h1M273 424.5h1M277 424.5h2M280 424.5h3M267 425.5h5M273 425.5h1M277 425.5h1M280 425.5h1M267 426.5h2M271 426.5h3M277 426.5h4M267 427.5h3M271 427.5h3M277 427.5h1M279 427.5h5M267 428.5h3M271 428.5h3M277 428.5h4M282 428.5h1M267 429.5h3M271 429.5h3M277 429.5h1M280 429.5h1M282 429.5h1M267 430.5h3M271 430.5h3M277 430.5h1M280 430.5h1M282 430.5h1M267 431.5h3M273 431.5h1M277 431.5h1M280 431.5h1M282 431.5h1M266 432.5h1M269 432.5h2M273 432.5h1M276 432.5h1M279 432.5h2M282 432.5h1M266 433.5h1M268 433.5h1M271 433.5h3M276 433.5h1M279 433.5h1M282 433.5h1M282 434.5h1" stroke="#00ff00" stroke-width="1" fill="none"/>
<path d="M601 424.5h1M608 424.5h1M610 424.5h4M590 425.5h6M600 425.5h2M609 425.5h1M613 425.5h1M592 426.5h1M595 426.5h1M600 426.5h2M608 426.5h1M613 426.5h1M592 427.5h1M595 427.5h1M599 427.5h5M608 427.5h4M613 427.5h1M592 428.5h1M595 428.5h1M599 428.5h1M601 428.5h1M608 428.5h2M611 428.5h1M613 428.5h1M592 429.5h2M595 429.5h1M599 429.5h1M601 429.5h3M608 429.5h4M613 429.5h1M592 430.5h1M594 430.5h1M600 430.5h3M608 430.5h2M611 430.5h1M613 430.5h1M592 431.5h1M601 431.5h1M608 431.5h4M613 431.5h1M592 432.5h1M601 432.5h1M608 432.5h2M613 432.5h1M589 433.5h8M598 433.5h8M608 433.5h1M612 433.5h2" stroke="#00ff00" stroke-width="1" fill="none"/>
<path d="M54 203.5h2M59 203.5h2M53 204.5h1M56 204.5h1M58 204.5h1M61 204.5h1M53 205.5h1M56 205.5h1M58 205.5h1M53 206.5h1M56 206.5h1M58 206.5h3M53 207.5h1M56 207.5h1M58 207.5h1M61 207.5h1M54 208.5h3M58 208.5h1M61 208.5h1M56 209.5h1M58 209.5h1M61 209.5h1M53 210.5h1M56 210.5h1M58 210.5h1M61 210.5h1M54 211.5h2M58 211.5h4" stroke="#00ff00" stroke-width="1" fill="none"/>
<path d="M68 199.5h2M73 199.5h2M67 200.5h1M70 200.5h1M72 200.5h1M75 200.5h1M67 201.5h1M70 201.5h1M72 201.5h1M75 201.5h1M70 202.5h1M72 202.5h1M75 202.5h1M70 203.5h1M73 203.5h2M69 204.5h1M72 204.5h1M75 204.5h1M68 205.5h1M72 205.5h1M75 205.5h1M68 206.5h1M72 206.5h1M75 206.5h1M67 207.5h4M72 207.5h4" stroke="#00ff00" stroke-width="1" fill="none"/>
<path d="M42 214.5h1M47 214.5h1M42 215.5h1M47 215.5h1M41 216.5h2M46 216.5h2M41 217.5h2M47 217.5h1M41 218.5h2M47 218.5h1M40 219.5h1M42 219.5h1M47 219.5h1M40 220.5h4M47 220.5h1M42 221.5h1M47 221.5h1M42 222.5h1M47 222.5h1" stroke="#00ff00" stroke-width="1" fill="none"/>
<path d="M79 212.5h4M86 212.5h1M82 213.5h1M86 213.5h1M81 214.5h1M85 214.5h2M81 215.5h1M85 215.5h2M81 216.5h1M85 216.5h2M81 217.5h1M84 217.5h1M86 217.5h1M80 218.5h1M84 218.5h4M80 219.5h1M86 219.5h1M80 220.5h1M86 220.5h1" stroke="#00ff00" stroke-width="1" fill="none"/>
<path d="M86 227.5h2M90 227.5h4M85 228.5h1M88 228.5h1M92 228.5h1M85 229.5h1M92 229.5h1M85 230.5h3M91 230.5h2M85 231.5h1M88 231.5h1M93 231.5h1M85 232.5h1M88 232.5h1M93 232.5h1M85 233.5h1M88 233.5h1M93 233.5h1M85 234.5h1M88 234.5h1M90 234.5h1M93 234.5h1M85 235.5h4M90 235.5h3" stroke="#00ff00" stroke-width="1" fill="none"/>
<path d="M71 237.5h1M74 237.5h4M71 238.5h1M77 238.5h1M70 239.5h2M76 239.5h1M71 240.5h1M76 240.5h1M71 241.5h1M76 241.5h1M71 242.5h1M76 242.5h1M71 243.5h1M75 243.5h1M71 244.5h1M75 244.5h1M71 245.5h1M75 245.5h1" stroke="#00ff00" stroke-width="1" fill="none"/>
<path d="M46 229.5h4M48 230.5h1M47 231.5h3M49 232.5h1M46 233.5h4" stroke="#00ff00" stroke-width="1" fill="none"/>
<rect x="0" y="0" width="684" height="1" fill="#fff"/>
<rect x="683" y="0" width="1" height="524" fill="#fff"/>
</svg>
</body></html>
